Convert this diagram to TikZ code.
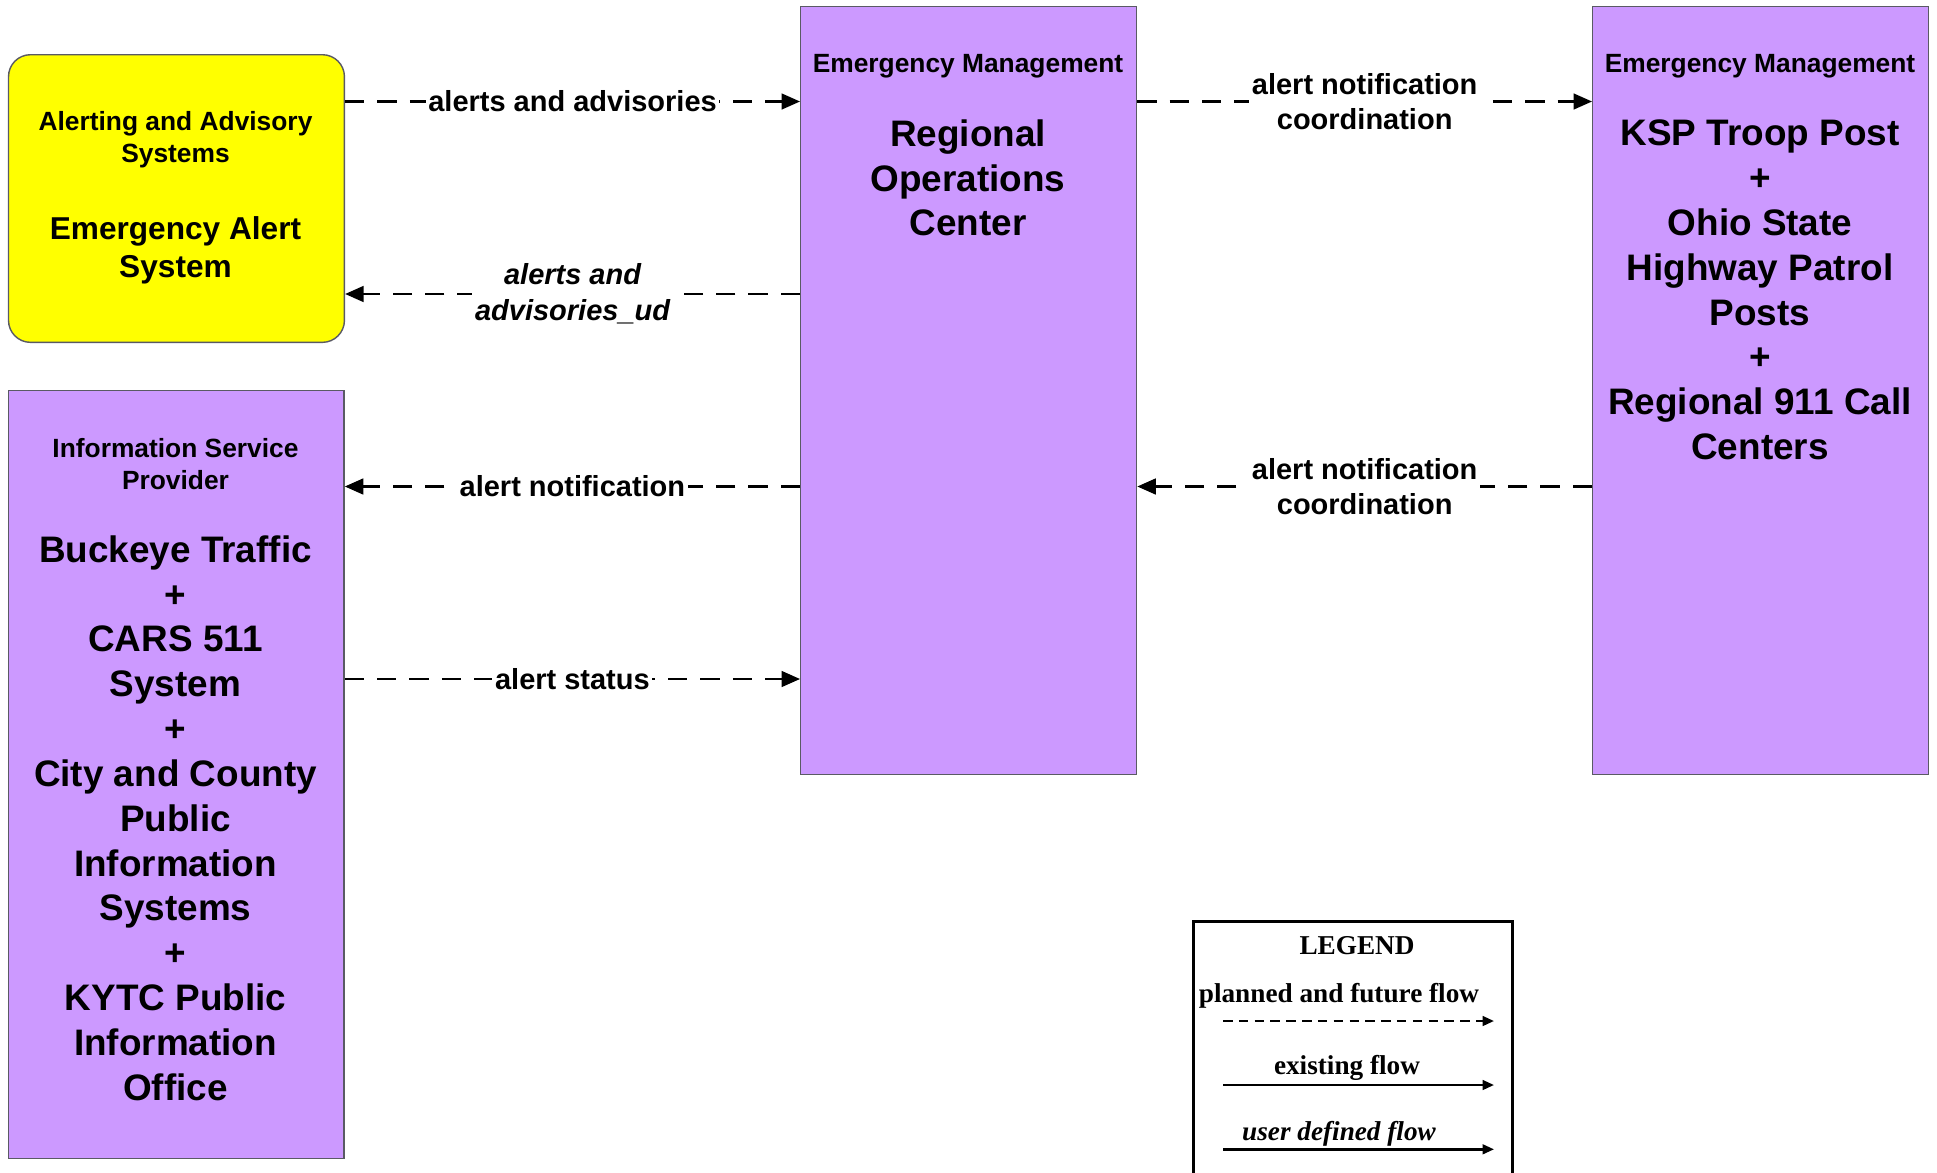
\documentclass[tikz,border=0pt]{standalone}
\usepackage{fontspec}
\setmainfont{Liberation Sans}
\newfontfamily\legendfont{Liberation Serif}
\usepackage{color}
\usetikzlibrary{arrows.meta,positioning}

\definecolor{boxpurple}{RGB}{204,153,255}
\definecolor{boxyellow}{RGB}{255,255,0}
\definecolor{boxline}{RGB}{90,90,100}

\begin{document}
\begin{tikzpicture}
[x=0.02cm,y=-0.02cm,
  box/.style={draw=boxline,line width=0.8pt,fill=boxpurple,anchor=north west,minimum width=6.72cm,inner sep=0pt},
  head/.style={font=\fontsize{15}{18.2}\selectfont\bfseries,align=center},
  big/.style={font=\fontsize{21}{25.5}\selectfont\bfseries,align=center},
  flow/.style={draw,dash pattern=on 11pt off 7.4pt,line width=1.2pt,-{Triangle[length=10.5pt,width=9pt]}},
  lbl/.style={fill=white,inner sep=1.5pt,font=\fontsize{16.5}{20.3}\selectfont\bfseries,align=center},
  udlbl/.style={lbl,font=\fontsize{16.5}{20.3}\selectfont\bfseries\itshape},
  legendbox/.style={draw,line width=1.7pt,anchor=north west,minimum width=6.39cm,minimum height=5.6cm},
  legtext/.style={font=\legendfont\fontsize{15.5}{18}\selectfont\bfseries},
  legarrow/.style={line width=1.4pt,-{Triangle[length=6.5pt,width=5.5pt]}}]

  \useasboundingbox (0,0) rectangle (1937,1173);

  % boxes
  \node[box,fill=boxyellow,rounded corners=0.44cm,minimum height=5.754cm] (eas) at (7.8,54) {};
  \node[box,minimum height=15.364cm] (isp) at (7.5,389.5) {};
  \node[box,minimum height=15.364cm] (roc) at (800,5.5) {};
  \node[box,minimum height=15.364cm] (ksp) at (1592,5.5) {};

  \node[head] (eascat) at (175.5,140) {Alerting and Advisory\\Systems};
  \node[big,font=\fontsize{18}{21.8}\selectfont\bfseries] (eastitle) at (175.5,250) {Emergency Alert\\System};

  \node[head] (ispcat) at (175.5,464) {Information Service\\Provider};
  \node[big] (isptitle) at (175.5,818) {Buckeye Traffic\\+\\CARS 511\\System\\+\\City and County\\Public\\Information\\Systems\\+\\KYTC Public\\Information\\Office};

  \node[head] (roccat) at (968,66) {Emergency Management};
  \node[big] (roctitle) at (968,178) {Regional\\Operations\\Center};

  \node[head] (kspcat) at (1760,66) {Emergency Management};
  \node[big] (ksptitle) at (1760,290) {KSP Troop Post\\+\\Ohio State\\Highway Patrol\\Posts\\+\\Regional 911 Call\\Centers};

  % flows
  \foreach \from/\to/\y/\sty/\txt in {eas.east/roc.west/101.5/lbl/{alerts and advisories},
      roc.west/eas.east/294/udlbl/{alerts and\\advisories\_ud},
      roc.west/isp.east/486.5/lbl/{alert notification},
      isp.east/roc.west/679/lbl/{alert status},
      roc.east/ksp.west/101.5/lbl/{alert notification\\coordination},
      ksp.west/roc.east/486.5/lbl/{alert notification\\coordination}}
    \draw[flow] (\from |- 0,\y) -- node[\sty] {\txt} (\to |- 0,\y);

  % legend
  \node[legendbox] (legend) at (1191.7,920) {};
  \node[legtext] (legtitle) at (1357,946) {LEGEND};
  \node[legtext] (planned) at (1339,996) {planned and future flow};
  \coordinate (pf1) at (1223,1021);
  \coordinate (pf2) at (1494,1021);
  \draw[legarrow,dash pattern=on 5.4pt off 3.6pt] (pf1) -- (pf2);
  \node[legtext] (existing) at (1347,1068) {existing flow};
  \coordinate (ex1) at (1223,1085);
  \coordinate (ex2) at (1494,1085);
  \draw[legarrow] (ex1) -- (ex2);
  \node[legtext,font=\legendfont\fontsize{15.5}{18}\selectfont\bfseries\itshape] (userdef) at (1339,1134) {user defined flow};
  \coordinate (ud1) at (1223,1149.3);
  \coordinate (ud2) at (1494,1149.3);
  \draw[legarrow] (ud1) -- (ud2);

\end{tikzpicture}
\end{document}
